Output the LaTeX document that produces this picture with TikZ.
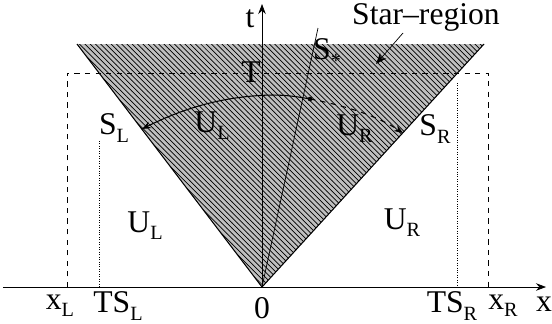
\documentclass[tikz,border=0pt]{standalone}
\usepackage{fontspec}
\setmainfont{Liberation Serif}
\usetikzlibrary{arrows.meta,patterns}
\tikzset{
  axis/.style={-{Stealth[length=2mm]}, thin},
  shock/.style={semithick},
  box/.style={dashed, thin},
  trace/.style={densely dotted, thin},
  wave/.style={-{Stealth[length=1.8mm]}, semithick},
  pointer/.style={-{Stealth[length=2.2mm]}, thin},
  lbl/.style={font=\fontsize{18}{21}\selectfont, inner sep=1pt},
}
\newcommand{\sbs}[2]{#1\raisebox{-0.5ex}{\fontsize{11.5}{13}\selectfont #2}}

\begin{document}
\begin{tikzpicture}
  \useasboundingbox (-5.24,-0.72) rectangle (5.80,5.74);
  % fan of the Riemann problem
  \coordinate (O) at (0,0);
  \coordinate (TL) at (-3.70,4.86);
  \coordinate (TR) at (4.44,4.86);
  \coordinate (Stop) at (1.12,5.18);
  \fill[gray!50] (O) -- (TL) -- (TR) -- cycle;
  \fill[pattern=north west lines] (O) -- (TL) -- (TR) -- cycle;
  \draw[shock] (O) -- (TL);
  \draw[shock] (O) -- (TR);
  \draw[thin] (O) -- (Stop);
  % axes
  \coordinate (xa) at (-5.18,0);
  \coordinate (xb) at (5.68,0);
  \coordinate (tb) at (0,5.66);
  \draw[axis] (xa) -- (xb);
  \draw[axis] (O) -- (tb);
  % computational box and shock positions at time T
  \coordinate (XL) at (-3.90,0);
  \coordinate (XR) at (4.52,0);
  \coordinate (BL) at (-3.90,4.28);
  \coordinate (BR) at (4.52,4.28);
  \draw[box] (XL) -- (BL) -- (BR) -- (XR);
  \coordinate (dL) at (-3.26,2.92);
  \coordinate (dR) at (3.91,4.08);
  \draw[trace] (dL) -- (dL |- O);
  \draw[trace] (dR) -- (dR |- O);
  % wave curve in the star region
  \coordinate (WL) at (-2.40,3.16);
  \coordinate (WP) at (0.20,3.84);
  \coordinate (WD) at (0.96,3.76);
  \coordinate (WR) at (2.82,3.08);
  \draw[wave] (WP) .. controls (-0.8,3.82) and (-1.6,3.56) .. (WL);
  \draw[semithick] (WP) .. controls (0.5,3.84) and (0.75,3.8) .. (WD);
  \draw[wave, dashed] (WD) .. controls (1.7,3.62) and (2.3,3.42) .. (WR);
  \fill (WD) circle (1.3pt);
  % labels
  \node[lbl] (star) at (3.28,5.40) {Star--region};
  \coordinate (starTip) at (2.28,4.46);
  \draw[pointer] ([xshift=-4.6mm]star.south) -- (starTip);
  \node[lbl] (tlab) at (-0.24,5.36) {t};
  \node[lbl] (Tlab) at (-0.22,4.30) {T};
  \node[lbl] (Sstar) at (1.30,4.68) {\sbs{S}{*}};
  \node[lbl] (SL) at (-2.96,3.18) {\sbs{S}{L}};
  \node[lbl] (SR) at (3.46,3.16) {\sbs{S}{R}};
  \node[lbl] (ULs) at (-1.00,3.22) {\sbs{U}{L}};
  \node[lbl] (URs) at (1.85,3.16) {\sbs{U}{R}};
  \node[lbl] (UL) at (-2.34,1.22) {\sbs{U}{L}};
  \node[lbl] (UR) at (2.80,1.28) {\sbs{U}{R}};
  \node[lbl] (xL) at (-4.04,-0.38) {\sbs{x}{L}};
  \node[lbl] (TSL) at (-2.88,-0.38) {\sbs{TS}{L}};
  \node[lbl] (zero) at (0,-0.42) {0};
  \node[lbl] (TSR) at (3.80,-0.38) {\sbs{TS}{R}};
  \node[lbl] (xR) at (4.82,-0.38) {\sbs{x}{R}};
  \node[lbl] (xlab) at (5.64,-0.34) {x};
\end{tikzpicture}
\end{document}
